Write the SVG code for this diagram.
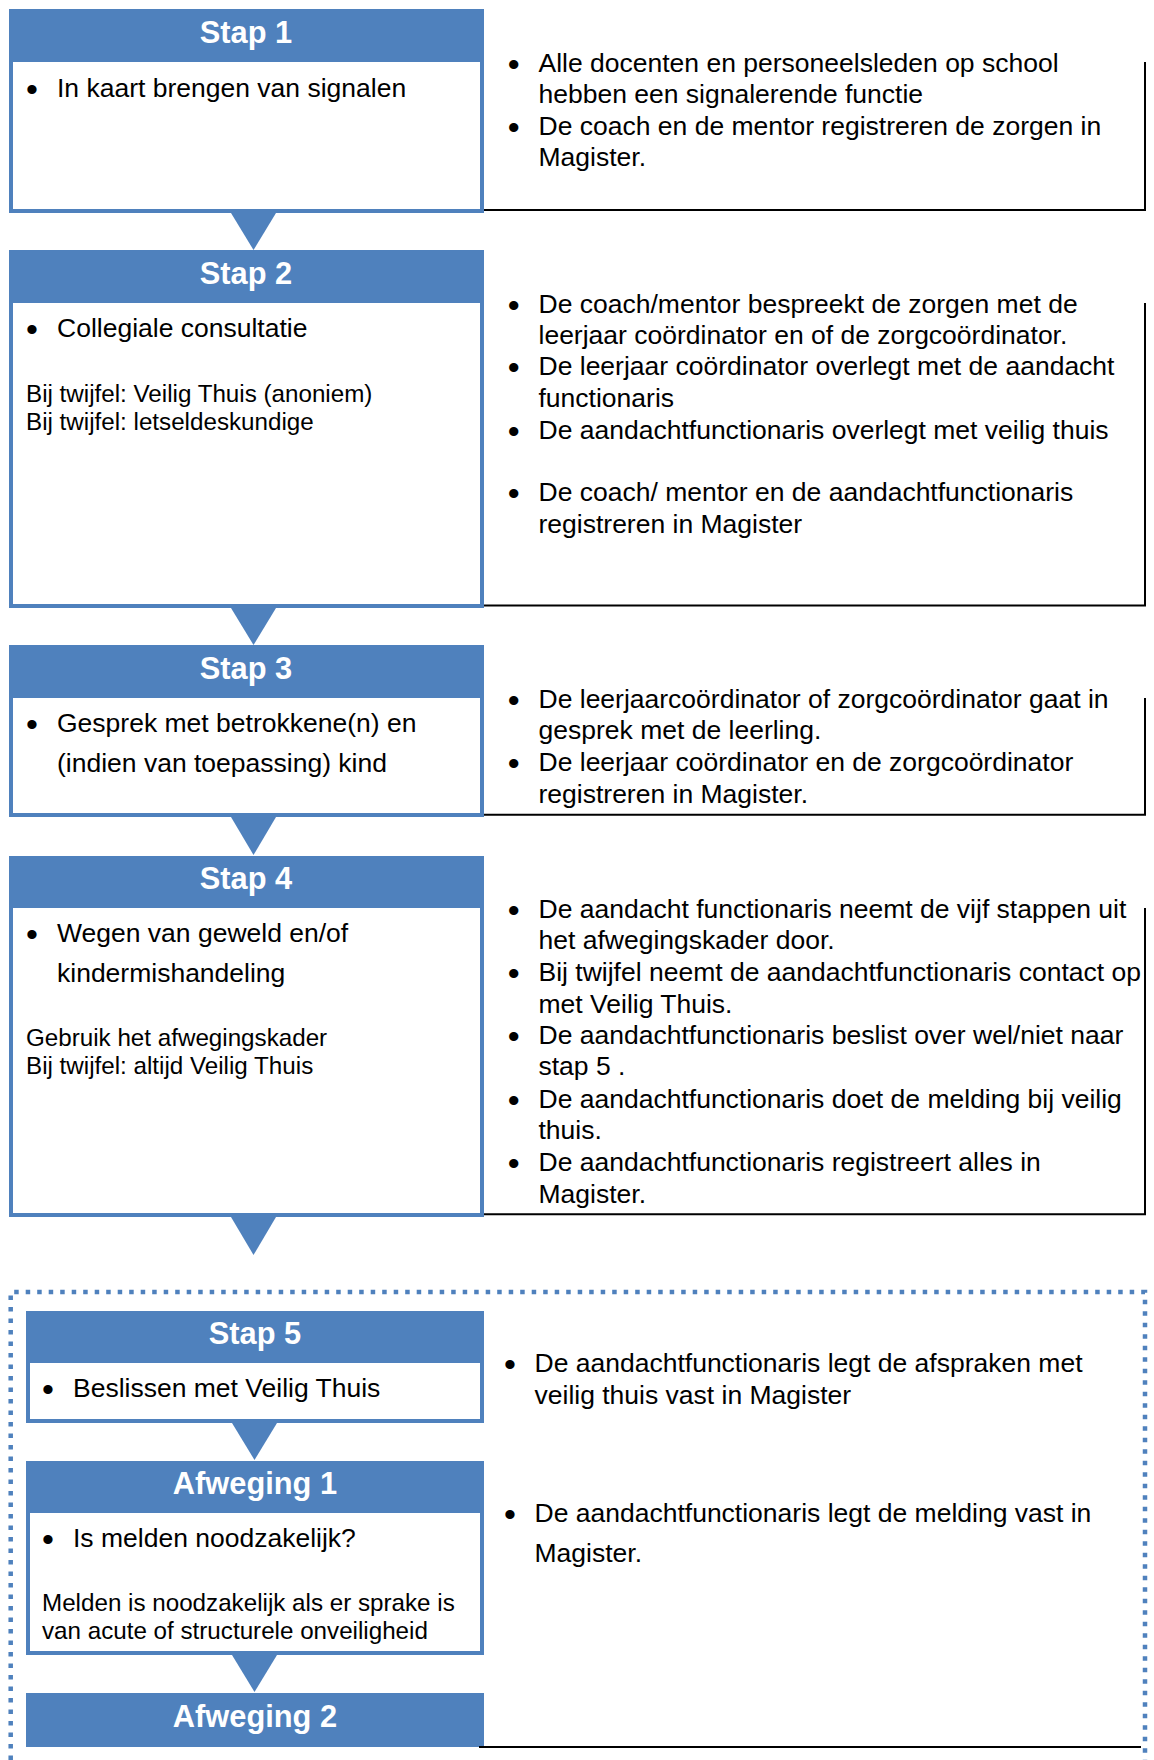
<svg xmlns="http://www.w3.org/2000/svg" width="1154" height="1760" viewBox="0 0 1154 1760">
<style>
.hdr{fill:#4F81BD}
.box{fill:#fff;stroke:#4F81BD;stroke-width:4}
.ht{font-family:'Liberation Sans',Arial,sans-serif;font-weight:bold;font-size:30.8px;fill:#fff;text-anchor:middle}
.t{font-family:'Liberation Sans',Arial,sans-serif;font-size:26.5px;fill:#000}
.s{font-family:'Liberation Sans',Arial,sans-serif;font-size:24.2px;fill:#000}
.b{font-family:'Liberation Sans',Arial,sans-serif;font-size:34px;fill:#000;text-anchor:middle}
.rl{fill:none;stroke:#000;stroke-width:2}
.arr{fill:#4F81BD}
.dot{fill:none;stroke:#4F81BD;stroke-width:4.5;stroke-dasharray:4.5 7}
</style>
<rect width="1154" height="1760" fill="#fff"/>

<g id="frame-stap5">
<path class="dot" d="M10.7,1760 V1292 H1145 V1760"/>
</g>

<g id="connectors">
<polygon class="arr" points="231,213 276,213 253.5,250"/>
<polygon class="arr" points="231,608 276,608 253.5,645"/>
<polygon class="arr" points="231,817 276,817 253.5,855"/>
<polygon class="arr" points="231,1217 276,1217 253.5,1255"/>
<polygon class="arr" points="232,1423 277,1423 254.5,1460"/>
<polygon class="arr" points="232,1655 277,1655 254.5,1692"/>
</g>

<g id="stap1">
<rect class="box" x="11" y="11" width="471" height="200"/>
<rect class="hdr" x="9" y="9" width="475" height="53"/>
<text class="ht" x="246" y="43">Stap 1</text>
<text class="b" x="32" y="97" dy="4">•</text>
<text class="t" x="57" y="97">In kaart brengen van signalen</text>
</g>
<g id="stap1-info">
<path class="rl" d="M484,210 H1145 V62"/>
<text class="b" x="513.6" y="71.7" dy="4">•</text>
<text class="t" x="538.5" y="71.7">Alle docenten en personeelsleden op school</text>
<text class="t" x="538.5" y="103.2">hebben een signalerende functie</text>
<text class="b" x="513.6" y="134.7" dy="4">•</text>
<text class="t" x="538.5" y="134.7">De coach en de mentor registreren de zorgen in</text>
<text class="t" x="538.5" y="166.2">Magister.</text>
</g>

<g id="stap2">
<rect class="box" x="11" y="252" width="471" height="354"/>
<rect class="hdr" x="9" y="250" width="475" height="53"/>
<text class="ht" x="246" y="284">Stap 2</text>
<text class="b" x="32" y="337.3" dy="4">•</text>
<text class="t" x="57" y="337.3">Collegiale consultatie</text>
<text class="s" x="26" y="401.7">Bij twijfel: Veilig Thuis (anoniem)</text>
<text class="s" x="26" y="430">Bij twijfel: letseldeskundige</text>
</g>
<g id="stap2-info">
<path class="rl" d="M484,605.5 H1145 V303"/>
<text class="b" x="513.6" y="312.7" dy="4">•</text>
<text class="t" x="538.5" y="312.7">De coach/mentor bespreekt de zorgen met de</text>
<text class="t" x="538.5" y="344">leerjaar coördinator en of de zorgcoördinator.</text>
<text class="b" x="513.6" y="375.4" dy="4">•</text>
<text class="t" x="538.5" y="375.4">De leerjaar coördinator overlegt met de aandacht</text>
<text class="t" x="538.5" y="406.7">functionaris</text>
<text class="b" x="513.6" y="438.7" dy="4">•</text>
<text class="t" x="538.5" y="438.7">De aandachtfunctionaris overlegt met veilig thuis</text>
<text class="b" x="513.6" y="501.4" dy="4">•</text>
<text class="t" x="538.5" y="501.4">De coach/ mentor en de aandachtfunctionaris</text>
<text class="t" x="538.5" y="533">registreren in Magister</text>
</g>

<g id="stap3">
<rect class="box" x="11" y="647" width="471" height="168"/>
<rect class="hdr" x="9" y="645" width="475" height="53"/>
<text class="ht" x="246" y="678.5">Stap 3</text>
<text class="b" x="32" y="731.7" dy="4">•</text>
<text class="t" x="57" y="731.7">Gesprek met betrokkene(n) en</text>
<text class="t" x="57" y="771.7">(indien van toepassing) kind</text>
</g>
<g id="stap3-info">
<path class="rl" d="M484,814.7 H1145 V698"/>
<text class="b" x="513.6" y="707.7" dy="4">•</text>
<text class="t" x="538.5" y="707.7">De leerjaarcoördinator of zorgcoördinator gaat in</text>
<text class="t" x="538.5" y="739.2">gesprek met de leerling.</text>
<text class="b" x="513.6" y="771" dy="4">•</text>
<text class="t" x="538.5" y="771">De leerjaar coördinator en de zorgcoördinator</text>
<text class="t" x="538.5" y="802.5">registreren in Magister.</text>
</g>

<g id="stap4">
<rect class="box" x="11" y="858" width="471" height="357"/>
<rect class="hdr" x="9" y="856" width="475" height="52"/>
<text class="ht" x="246" y="888.5">Stap 4</text>
<text class="b" x="32" y="941.7" dy="4">•</text>
<text class="t" x="57" y="941.7">Wegen van geweld en/of</text>
<text class="t" x="57" y="981.7">kindermishandeling</text>
<text class="s" x="26" y="1046">Gebruik het afwegingskader</text>
<text class="s" x="26" y="1074">Bij twijfel: altijd Veilig Thuis</text>
</g>
<g id="stap4-info">
<path class="rl" d="M484,1214.3 H1145 V908"/>
<text class="b" x="513.6" y="917.7" dy="4">•</text>
<text class="t" x="538.5" y="917.7">De aandacht functionaris neemt de vijf stappen uit</text>
<text class="t" x="538.5" y="949">het afwegingskader door.</text>
<text class="b" x="513.6" y="981.4" dy="4">•</text>
<text class="t" x="538.5" y="981.4">Bij twijfel neemt de aandachtfunctionaris contact op</text>
<text class="t" x="538.5" y="1012.7">met Veilig Thuis.</text>
<text class="b" x="513.6" y="1044" dy="4">•</text>
<text class="t" x="538.5" y="1044">De aandachtfunctionaris beslist over wel/niet naar</text>
<text class="t" x="538.5" y="1075.4">stap 5 .</text>
<text class="b" x="513.6" y="1107.7" dy="4">•</text>
<text class="t" x="538.5" y="1107.7">De aandachtfunctionaris doet de melding bij veilig</text>
<text class="t" x="538.5" y="1139">thuis.</text>
<text class="b" x="513.6" y="1171" dy="4">•</text>
<text class="t" x="538.5" y="1171">De aandachtfunctionaris registreert alles in</text>
<text class="t" x="538.5" y="1202.5">Magister.</text>
</g>

<g id="stap5">
<rect class="box" x="28" y="1313" width="454" height="108"/>
<rect class="hdr" x="26" y="1311" width="458" height="52"/>
<text class="ht" x="255" y="1343.5">Stap 5</text>
<text class="b" x="48" y="1397" dy="4">•</text>
<text class="t" x="73" y="1397">Beslissen met Veilig Thuis</text>
</g>
<g id="stap5-info">
<text class="b" x="510" y="1372" dy="4">•</text>
<text class="t" x="534.5" y="1372">De aandachtfunctionaris legt de afspraken met</text>
<text class="t" x="534.5" y="1403.5">veilig thuis vast in Magister</text>
</g>

<g id="afweging1">
<rect class="box" x="28" y="1463" width="454" height="190"/>
<rect class="hdr" x="26" y="1461" width="458" height="52"/>
<text class="ht" x="255" y="1494">Afweging 1</text>
<text class="b" x="48" y="1547" dy="4">•</text>
<text class="t" x="73" y="1547">Is melden noodzakelijk?</text>
<text class="s" x="42" y="1611">Melden is noodzakelijk als er sprake is</text>
<text class="s" x="42" y="1639">van acute of structurele onveiligheid</text>
</g>
<g id="afweging1-info">
<text class="b" x="510" y="1522" dy="4">•</text>
<text class="t" x="534.5" y="1522">De aandachtfunctionaris legt de melding vast in</text>
<text class="t" x="534.5" y="1562">Magister.</text>
</g>

<g id="afweging2">
<rect class="hdr" x="26" y="1693" width="458" height="54"/>
<text class="ht" x="255" y="1727">Afweging 2</text>
</g>
<g id="afweging2-info">
<path class="rl" d="M479,1747 H1141"/>
</g>
</svg>
